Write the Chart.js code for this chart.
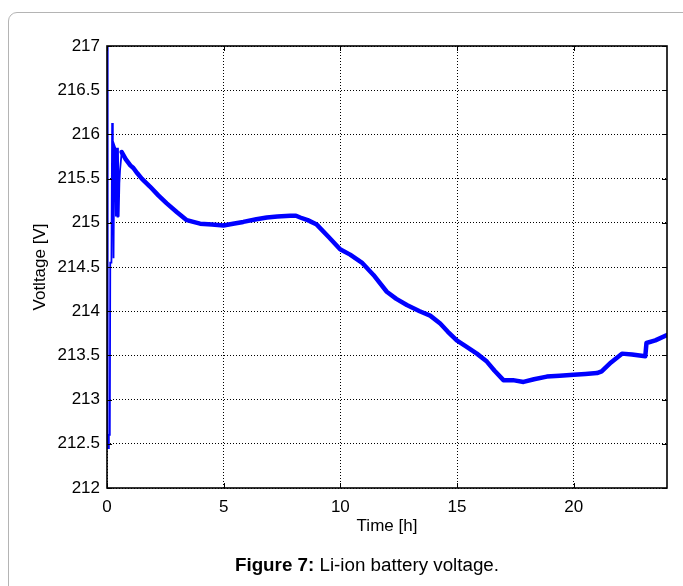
<!DOCTYPE html>
<html>
<head>
<meta charset="utf-8">
<script src="https://cdn.jsdelivr.net/npm/chart.js@4/dist/chart.umd.min.js"></script>
<style>
  html, body { margin:0; padding:0; background:#fff; width:683px; height:586px; overflow:hidden; }
  #frame { position:absolute; left:8px; top:12px; width:690px; height:640px; border:1px solid #b4b4b4; border-radius:9px; box-sizing:border-box; }
  #wrap { position:absolute; left:0; top:0; width:683px; height:586px; }
  #caption { position:absolute; left:0; width:734px; top:554px; text-align:center; font-family:"Liberation Sans", Arial, sans-serif; font-size:18.8px; color:#000; white-space:nowrap; }
</style>
</head>
<body>
<div id="frame"></div>
<div id="wrap"><canvas id="c" width="683" height="586"></canvas></div>
<div id="caption"><b>Figure 7:</b> Li-ion battery voltage.</div>
<script>
// Start-up transient (thin trace)
const timeEarly = [0, 0.02, 0.04, 0.07, 0.08, 0.12, 0.14, 0.19, 0.22, 0.25, 0.28, 0.31, 0.35, 0.38, 0.42, 0.45, 0.47, 0.50, 0.53, 0.56, 0.63];
const voltEarly = [217, 215.7, 212.45, 212.45, 212.6, 212.6, 214.55, 214.55, 216.13, 215.9, 214.6, 215.88, 215.85, 215.07, 215.85, 215.07, 215.85, 215.07, 215.45, 215.6, 215.8];
// Main discharge curve (thick trace)
const timeMain = [0.63, 0.8, 1.0, 1.13, 1.3, 1.49, 1.84, 2.2, 2.56, 3.0, 3.42, 3.7, 3.99, 4.5, 4.99, 5.4, 5.84, 6.4, 6.85, 7.3, 7.85, 8.1, 8.28, 8.6, 8.99, 9.5, 9.99, 10.42, 10.92, 11.42, 11.99, 12.4, 12.85, 13.4, 13.85, 14.28, 14.6, 14.99, 15.4, 15.85, 16.28, 16.6, 16.99, 17.4, 17.85, 18.3, 18.85, 19.4, 20.0, 20.5, 21.0, 21.2, 21.6, 22.07, 22.5, 23.07, 23.12, 23.5, 24.0];
const voltMain = [215.8, 215.72, 215.65, 215.62, 215.56, 215.5, 215.41, 215.31, 215.22, 215.12, 215.03, 215.01, 214.99, 214.98, 214.97, 214.99, 215.01, 215.04, 215.06, 215.07, 215.08, 215.08, 215.06, 215.03, 214.98, 214.84, 214.7, 214.64, 214.55, 214.41, 214.22, 214.14, 214.07, 214.0, 213.95, 213.86, 213.77, 213.67, 213.6, 213.52, 213.43, 213.33, 213.22, 213.22, 213.2, 213.23, 213.26, 213.27, 213.28, 213.29, 213.3, 213.32, 213.42, 213.52, 213.51, 213.49, 213.64, 213.67, 213.73];
const xTicks = [0, 5, 10, 15, 20];
const yTicks = [212, 212.5, 213, 213.5, 214, 214.5, 215, 215.5, 216, 216.5, 217];
const xTitle = 'Time [h]';
const yTitle = 'Votltage [V]';

const FONT = '"Liberation Sans", Arial, sans-serif';

const framePlugin = {
  id: 'framePlugin',
  afterDatasetsDraw(chart) {
    const {ctx, chartArea: {left, right, top, bottom}, scales: {x, y}} = chart;
    ctx.save();
    ctx.strokeStyle = '#000';
    ctx.lineWidth = 1;
    ctx.beginPath();
    xTicks.forEach(v => {
      const px = Math.round(x.getPixelForValue(v)) + 0.5;
      ctx.moveTo(px, bottom); ctx.lineTo(px, bottom - 5);
      ctx.moveTo(px, top); ctx.lineTo(px, top + 5);
    });
    yTicks.forEach(v => {
      const py = Math.round(y.getPixelForValue(v)) + 0.5;
      ctx.moveTo(left, py); ctx.lineTo(left + 5, py);
      ctx.moveTo(right, py); ctx.lineTo(right - 5, py);
    });
    ctx.stroke();
    ctx.lineWidth = 1.6;
    ctx.strokeRect(left, top, right - left, bottom - top);
    ctx.restore();
  }
};

new Chart(document.getElementById('c'), {
  type: 'scatter',
  data: {
    datasets: [
      {
        data: timeEarly.map((t, i) => ({x: t, y: voltEarly[i]})),
        showLine: true, borderColor: '#0000ff', borderWidth: 1.8, pointRadius: 0, tension: 0, fill: false
      },
      {
        data: timeMain.map((t, i) => ({x: t, y: voltMain[i]})),
        showLine: true, borderColor: '#0000ff', borderWidth: 4.5, pointRadius: 0, tension: 0, fill: false,
        borderJoinStyle: 'round', borderCapStyle: 'round'
      }
    ]
  },
  options: {
    responsive: false,
    animation: false,
    events: [],
    layout: { padding: { left: 0, right: 16, top: 46, bottom: 49 } },
    plugins: { legend: { display: false }, tooltip: { enabled: false } },
    scales: {
      x: {
        type: 'linear', min: 0, max: 24,
        afterBuildTicks: s => { s.ticks = xTicks.map(v => ({value: v})); },
        afterFit: s => { s.height = 49; },
        grid: { color: '#000', lineWidth: 1, drawTicks: false },
        border: { display: false, dash: [1, 2] },
        ticks: { color: '#000', font: { family: FONT, size: 17 }, padding: 9, maxRotation: 0 },
        title: { display: true, text: xTitle, color: '#000', font: { family: FONT, size: 17 }, padding: { top: 0, bottom: 0 } }
      },
      y: {
        type: 'linear', min: 212, max: 217,
        afterBuildTicks: s => { s.ticks = yTicks.map(v => ({value: v})); },
        afterFit: s => { s.width = 107; },
        grid: { color: '#000', lineWidth: 1, drawTicks: false },
        border: { display: false, dash: [1, 2] },
        ticks: { color: '#000', font: { family: FONT, size: 17 }, padding: 7, callback: v => String(v) },
        title: { display: true, text: yTitle, color: '#000', font: { family: FONT, size: 17 }, padding: { top: 30, bottom: 0 } }
      }
    }
  },
  plugins: [framePlugin]
});
</script>
</body>
</html>
